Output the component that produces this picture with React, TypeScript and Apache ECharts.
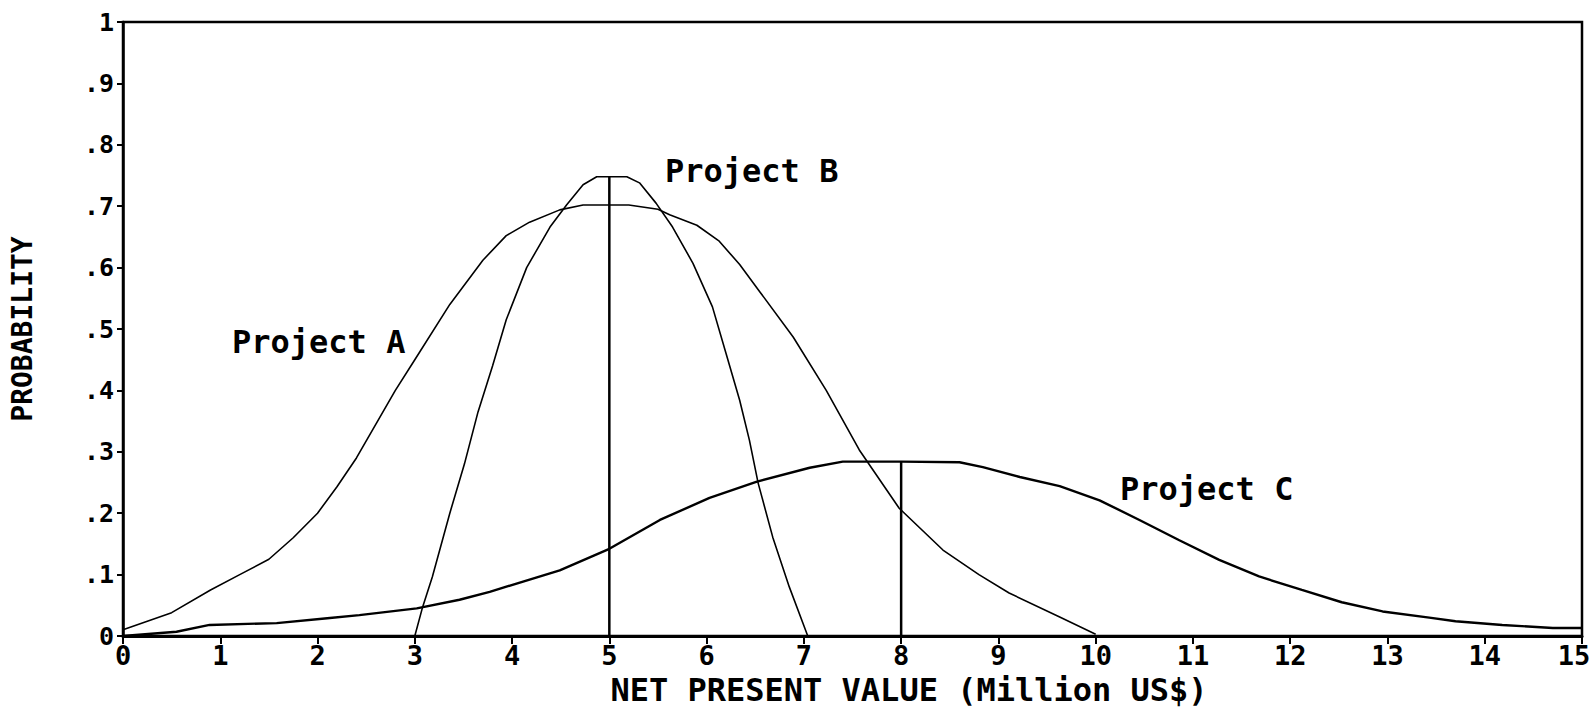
import React, { useEffect, useRef } from "react";
import * as echarts from "echarts";

// Project A probability curve [NPV, probability]
const projectA: [number, number][] = [
  [0, 0.01], [0.5, 0.038], [0.9, 0.075], [1.2, 0.1], [1.5, 0.125], [1.75, 0.16],
  [2, 0.2], [2.2, 0.243], [2.4, 0.29], [2.6, 0.345], [2.8, 0.4], [3.0, 0.45],
  [3.36, 0.54], [3.7, 0.612], [3.94, 0.652], [4.18, 0.674], [4.49, 0.694],
  [4.73, 0.702], [5.2, 0.702], [5.5, 0.695], [5.62, 0.686], [5.9, 0.669],
  [6.13, 0.643], [6.34, 0.605], [6.55, 0.56], [6.89, 0.487], [7.23, 0.4],
  [7.57, 0.303], [7.98, 0.208], [8.43, 0.14], [8.8, 0.1], [9.11, 0.07],
  [9.63, 0.031], [10, 0.003],
];

// Project B probability curve
const projectB: [number, number][] = [
  [3, 0], [3.08, 0.047], [3.18, 0.096], [3.36, 0.2], [3.51, 0.28], [3.65, 0.365],
  [3.8, 0.44], [3.94, 0.515], [4.15, 0.6], [4.39, 0.666], [4.56, 0.702],
  [4.73, 0.735], [4.87, 0.748], [5.18, 0.748], [5.31, 0.738], [5.48, 0.705],
  [5.65, 0.666], [5.86, 0.607], [6.06, 0.536], [6.2, 0.46], [6.34, 0.384],
  [6.44, 0.319], [6.53, 0.249], [6.68, 0.161], [6.85, 0.08], [7.04, 0],
];

// Project C probability curve
const projectC: [number, number][] = [
  [0, 0], [0.55, 0.007], [0.89, 0.018], [1.58, 0.021], [2.1, 0.029], [2.43, 0.034],
  [3.02, 0.045], [3.46, 0.059], [3.77, 0.072], [4.49, 0.107], [5, 0.142],
  [5.52, 0.189], [6.03, 0.225], [6.51, 0.251], [7.06, 0.274], [7.4, 0.284],
  [8, 0.284], [8.6, 0.283], [8.84, 0.275], [9.22, 0.259], [9.63, 0.244],
  [10.04, 0.221], [10.45, 0.189], [10.86, 0.156], [11.27, 0.124], [11.68, 0.097],
  [12.12, 0.075], [12.53, 0.055], [12.95, 0.04], [13.43, 0.03], [13.7, 0.024],
  [14.18, 0.018], [14.7, 0.013], [15, 0.013],
];

// Vertical reference lines (expected values)
const meanLineAB: [number, number][] = [[5, 0], [5, 0.748]];
const meanLineC: [number, number][] = [[8, 0], [8, 0.284]];

const yTickLabels = ["0", ".1", ".2", ".3", ".4", ".5", ".6", ".7", ".8", ".9", "1"];
const seriesNames = ["Project A", "Project B", "Project C"];

const FONT = "'DejaVu Sans Mono', monospace";

export default function App() {
  const ref = useRef<HTMLDivElement>(null);

  useEffect(() => {
    document.body.style.margin = "0";
    if (!ref.current) return;
    const chart = echarts.init(ref.current, null, { renderer: "svg" });
    const curveStyle = (w: number) => ({ color: "#000", width: w });
    chart.setOption({
      animation: false,
      backgroundColor: "#fff",
      grid: {
        left: 123,
        right: 11,
        top: 22,
        bottom: 79,
        containLabel: false,
        outerBoundsMode: "none",
        show: true,
        borderColor: "#000",
        borderWidth: 2.5,
      },
      xAxis: {
        type: "value",
        min: 0,
        max: 15,
        interval: 1,
        name: "NET PRESENT VALUE (Million US$)",
        nameLocation: "middle",
        nameGap: 29,
        nameTextStyle: {
          fontFamily: FONT,
          fontWeight: "bold",
          fontSize: 32,
          color: "#000",
          padding: [0, 0, 0, 113],
        },
        axisLine: { show: true, lineStyle: { color: "#000", width: 3 } },
        axisTick: { show: true, length: 8, lineStyle: { color: "#000", width: 2 } },
        axisLabel: {
          margin: 6,
          fontFamily: FONT,
          fontWeight: "bold",
          fontSize: 27,
          color: "#000",
          formatter: (v: number) => (v === 15 ? "{last|15}" : String(v)),
          rich: {
            last: {
              fontFamily: FONT,
              fontWeight: "bold",
              fontSize: 27,
              color: "#000",
              padding: [0, 16, 0, 0],
            },
          },
        },
        splitLine: { show: false },
      },
      yAxis: {
        type: "value",
        min: 0,
        max: 1,
        interval: 0.1,
        name: "PROBABILITY",
        nameLocation: "middle",
        nameRotate: 90,
        nameGap: 87,
        nameTextStyle: {
          fontFamily: FONT,
          fontWeight: "bold",
          fontSize: 28,
          color: "#000",
        },
        axisLine: { show: true, lineStyle: { color: "#000", width: 2.5 } },
        axisTick: { show: true, length: 6, lineStyle: { color: "#000", width: 2 } },
        axisLabel: {
          margin: 9,
          fontFamily: FONT,
          fontWeight: "bold",
          fontSize: 25,
          color: "#000",
          formatter: (v: number) => yTickLabels[Math.round(v * 10)],
        },
        splitLine: { show: false },
      },
      series: [
        {
          name: seriesNames[0],
          type: "line",
          data: projectA,
          showSymbol: false,
          smooth: false,
          lineStyle: curveStyle(1.6),
          z: 3,
        },
        {
          name: seriesNames[1],
          type: "line",
          data: projectB,
          showSymbol: false,
          smooth: false,
          lineStyle: curveStyle(1.6),
          z: 3,
        },
        {
          name: seriesNames[2],
          type: "line",
          data: projectC,
          showSymbol: false,
          smooth: false,
          lineStyle: curveStyle(2.4),
          z: 3,
        },
        {
          name: "Mean A/B",
          type: "line",
          data: meanLineAB,
          showSymbol: false,
          lineStyle: curveStyle(2.5),
          z: 2,
        },
        {
          name: "Mean C",
          type: "line",
          data: meanLineC,
          showSymbol: false,
          lineStyle: curveStyle(2.5),
          z: 2,
        },
      ],
      graphic: [
        {
          type: "text",
          left: 232,
          top: 326,
          style: { text: seriesNames[0], font: `bold 32px ${FONT}`, fill: "#000" },
        },
        {
          type: "text",
          left: 665,
          top: 155,
          style: { text: seriesNames[1], font: `bold 32px ${FONT}`, fill: "#000" },
        },
        {
          type: "text",
          left: 1120,
          top: 473,
          style: { text: seriesNames[2], font: `bold 32px ${FONT}`, fill: "#000" },
        },
      ],
    });
    return () => chart.dispose();
  }, []);

  return <div ref={ref} style={{ width: 1593, height: 715 }} />;
}
